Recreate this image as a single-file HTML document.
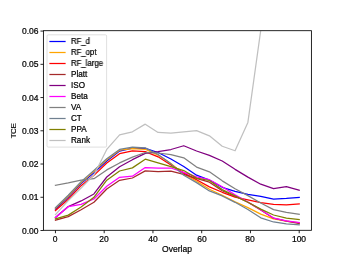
<!DOCTYPE html><html><head><meta charset="utf-8"><title>chart</title><style>
html,body{margin:0;padding:0;background:#fff}
body{width:346px;height:259px;position:relative;overflow:hidden;font-family:"Liberation Sans",sans-serif;font-size:8.15px;color:#000}
.t{position:absolute;white-space:nowrap;line-height:1;will-change:transform;-webkit-text-stroke:0.22px #000}
</style></head><body>
<svg width="346" height="259" viewBox="0 0 346 259" style="position:absolute;left:0;top:0">
<defs><clipPath id="c"><rect x="43.25" y="31.08" width="268.15" height="199.43"/></clipPath></defs>
<g clip-path="url(#c)" fill="none" stroke-width="1.250" stroke-linejoin="round" stroke-linecap="square">
<path d="M55.44,209.00 L68.27,197.27 L81.10,183.64 L93.93,172.68 L106.76,161.04 L119.59,151.10 L132.42,148.21 L145.25,148.34 L158.08,152.53 L170.91,159.05 L183.74,166.49 L196.57,175.17 L209.40,179.99 L222.23,187.30 L235.06,191.29 L247.89,194.45 L260.72,196.41 L273.55,199.03 L286.38,198.44 L299.21,197.44" stroke="#0000ff"/>
<path d="M55.44,208.24 L68.27,196.27 L81.10,182.65 L93.93,171.35 L106.76,159.71 L119.59,150.21 L132.42,148.68 L145.25,149.28 L158.08,155.06 L170.91,163.60 L183.74,174.00 L196.57,181.22 L209.40,189.19 L222.23,195.28 L235.06,201.73 L247.89,207.58 L260.72,214.12 L273.55,218.88 L286.38,221.20 L299.21,222.87" stroke="#ffa500"/>
<path d="M55.44,210.57 L68.27,199.27 L81.10,185.64 L93.93,175.33 L106.76,163.04 L119.59,153.66 L132.42,150.77 L145.25,151.60 L158.08,156.82 L170.91,164.96 L183.74,172.87 L196.57,179.82 L209.40,186.87 L222.23,192.29 L235.06,197.11 L247.89,199.93 L260.72,202.52 L273.55,204.48 L286.38,204.82 L299.21,204.02" stroke="#ff0000"/>
<path d="M55.44,220.21 L68.27,216.62 L81.10,209.70 L93.93,202.26 L106.76,188.96 L119.59,180.32 L132.42,177.99 L145.25,170.91 L158.08,171.51 L170.91,171.18 L183.74,174.34 L196.57,178.33 L209.40,182.21 L222.23,190.79 L235.06,196.27 L247.89,202.26 L260.72,209.90 L273.55,218.21 L286.38,221.20 L299.21,223.46" stroke="#a52a2a"/>
<path d="M55.44,217.55 L68.27,206.58 L81.10,200.93 L93.93,193.95 L106.76,177.00 L119.59,166.76 L132.42,159.68 L145.25,153.33 L158.08,151.60 L170.91,149.51 L183.74,145.75 L196.57,150.97 L209.40,155.32 L222.23,161.04 L235.06,169.35 L247.89,177.10 L260.72,184.18 L273.55,188.63 L286.38,186.64 L299.21,190.26" stroke="#800080"/>
<path d="M55.44,217.55 L68.27,206.68 L81.10,204.35 L93.93,198.93 L106.76,186.30 L119.59,177.33 L132.42,176.20 L145.25,167.59 L158.08,168.06 L170.91,168.02 L183.74,172.34 L196.57,176.93 L209.40,179.69 L222.23,186.80 L235.06,194.88 L247.89,201.93 L260.72,209.70 L273.55,218.05 L286.38,220.80 L299.21,222.53" stroke="#ff00ff"/>
<path d="M55.44,185.31 L68.27,182.98 L81.10,180.12 L93.93,178.66 L106.76,169.92 L119.59,162.94 L132.42,157.12 L145.25,152.53 L158.08,153.00 L170.91,154.73 L183.74,157.82 L196.57,167.09 L209.40,171.81 L222.23,180.85 L235.06,188.80 L247.89,195.64 L260.72,202.99 L273.55,209.64 L286.38,212.36 L299.21,214.22" stroke="#808080"/>
<path d="M55.44,207.61 L68.27,195.28 L81.10,181.65 L93.93,170.35 L106.76,158.72 L119.59,149.41 L132.42,147.05 L145.25,147.91 L158.08,154.49 L170.91,163.87 L183.74,175.17 L196.57,182.65 L209.40,190.92 L222.23,195.94 L235.06,202.32 L247.89,209.50 L260.72,217.81 L273.55,221.97 L286.38,223.93 L299.21,224.86" stroke="#708090"/>
<path d="M55.44,218.88 L68.27,215.12 L81.10,207.01 L93.93,197.27 L106.76,180.15 L119.59,171.01 L132.42,167.86 L145.25,159.15 L158.08,162.84 L170.91,166.59 L183.74,170.55 L196.57,178.09 L209.40,180.49 L222.23,189.63 L235.06,195.91 L247.89,202.26 L260.72,209.14 L273.55,214.99 L286.38,218.15 L299.21,219.64" stroke="#808000"/>
<path d="M55.44,214.56 L68.27,200.60 L81.10,187.96 L93.93,175.00 L106.76,149.41 L119.59,134.92 L132.42,131.79 L145.25,124.15 L158.08,132.46 L170.91,133.12 L183.74,131.83 L196.57,130.63 L209.40,135.85 L222.23,146.28 L235.06,150.74 L247.89,122.42 L260.72,30.42 L273.55,-35.40 L286.38,-35.40 L299.21,-35.40" stroke="#c0c0c0"/>
</g>
<rect x="43.4" y="30.7" width="268.00" height="199.60" fill="none" stroke="#000" stroke-width="0.850"/>
<line x1="55.44" x2="55.44" y1="230.30" y2="233.23" stroke="#000" stroke-width="0.850"/>
<line x1="104.19" x2="104.19" y1="230.30" y2="233.23" stroke="#000" stroke-width="0.850"/>
<line x1="152.95" x2="152.95" y1="230.30" y2="233.23" stroke="#000" stroke-width="0.850"/>
<line x1="201.70" x2="201.70" y1="230.30" y2="233.23" stroke="#000" stroke-width="0.850"/>
<line x1="250.46" x2="250.46" y1="230.30" y2="233.23" stroke="#000" stroke-width="0.850"/>
<line x1="299.21" x2="299.21" y1="230.30" y2="233.23" stroke="#000" stroke-width="0.850"/>
<line x1="43.40" x2="40.47" y1="230.51" y2="230.51" stroke="#000" stroke-width="0.850"/>
<line x1="43.40" x2="40.47" y1="197.27" y2="197.27" stroke="#000" stroke-width="0.850"/>
<line x1="43.40" x2="40.47" y1="164.03" y2="164.03" stroke="#000" stroke-width="0.850"/>
<line x1="43.40" x2="40.47" y1="130.79" y2="130.79" stroke="#000" stroke-width="0.850"/>
<line x1="43.40" x2="40.47" y1="97.56" y2="97.56" stroke="#000" stroke-width="0.850"/>
<line x1="43.40" x2="40.47" y1="64.32" y2="64.32" stroke="#000" stroke-width="0.850"/>
<line x1="43.40" x2="40.47" y1="31.08" y2="31.08" stroke="#000" stroke-width="0.850"/>
<rect x="47.0" y="34.8" width="59.60" height="112.30" rx="1.2" fill="#fff" fill-opacity="0.8" stroke="#ccc" stroke-opacity="0.8" stroke-width="0.751"/>
<line x1="50.0" x2="65.0" y1="41.50" y2="41.50" stroke="#0000ff" stroke-width="1.250" stroke-linecap="square"/>
<line x1="50.0" x2="65.0" y1="52.50" y2="52.50" stroke="#ffa500" stroke-width="1.250" stroke-linecap="square"/>
<line x1="50.0" x2="65.0" y1="63.50" y2="63.50" stroke="#ff0000" stroke-width="1.250" stroke-linecap="square"/>
<line x1="50.0" x2="65.0" y1="74.50" y2="74.50" stroke="#a52a2a" stroke-width="1.250" stroke-linecap="square"/>
<line x1="50.0" x2="65.0" y1="85.50" y2="85.50" stroke="#800080" stroke-width="1.250" stroke-linecap="square"/>
<line x1="50.0" x2="65.0" y1="96.50" y2="96.50" stroke="#ff00ff" stroke-width="1.250" stroke-linecap="square"/>
<line x1="50.0" x2="65.0" y1="107.50" y2="107.50" stroke="#808080" stroke-width="1.250" stroke-linecap="square"/>
<line x1="50.0" x2="65.0" y1="118.50" y2="118.50" stroke="#708090" stroke-width="1.250" stroke-linecap="square"/>
<line x1="50.0" x2="65.0" y1="129.50" y2="129.50" stroke="#808000" stroke-width="1.250" stroke-linecap="square"/>
<line x1="50.0" x2="65.0" y1="140.50" y2="140.50" stroke="#c0c0c0" stroke-width="1.250" stroke-linecap="square"/>
</svg>
<div class="t" style="left:71px;top:37.64px;transform:scaleX(0.955);transform-origin:left center">RF_d</div>
<div class="t" style="left:71px;top:48.64px;transform:scaleX(0.955);transform-origin:left center">RF_opt</div>
<div class="t" style="left:71px;top:59.64px;transform:scaleX(0.955);transform-origin:left center">RF_large</div>
<div class="t" style="left:71px;top:70.64px">Platt</div>
<div class="t" style="left:71px;top:81.64px">ISO</div>
<div class="t" style="left:71px;top:92.64px">Beta</div>
<div class="t" style="left:71px;top:103.64px">VA</div>
<div class="t" style="left:71px;top:114.64px">CT</div>
<div class="t" style="left:71px;top:125.64px">PPA</div>
<div class="t" style="left:71px;top:136.64px">Rank</div>
<div class="t" style="right:307.80px;top:226.55px;font-size:8.5px">0.00</div>
<div class="t" style="right:307.80px;top:193.31px;font-size:8.5px">0.01</div>
<div class="t" style="right:307.80px;top:160.07px;font-size:8.5px">0.02</div>
<div class="t" style="right:307.80px;top:126.83px;font-size:8.5px">0.03</div>
<div class="t" style="right:307.80px;top:93.60px;font-size:8.5px">0.04</div>
<div class="t" style="right:307.80px;top:60.36px;font-size:8.5px">0.05</div>
<div class="t" style="right:307.80px;top:27.12px;font-size:8.5px">0.06</div>
<div class="t" style="left:35.44px;width:40px;text-align:center;top:234.81px;font-size:8.5px">0</div>
<div class="t" style="left:84.19px;width:40px;text-align:center;top:234.81px;font-size:8.5px">20</div>
<div class="t" style="left:132.95px;width:40px;text-align:center;top:234.81px;font-size:8.5px">40</div>
<div class="t" style="left:181.70px;width:40px;text-align:center;top:234.81px;font-size:8.5px">60</div>
<div class="t" style="left:230.46px;width:40px;text-align:center;top:234.81px;font-size:8.5px">80</div>
<div class="t" style="left:279.21px;width:40px;text-align:center;top:234.81px;font-size:8.5px">100</div>
<div class="t" style="left:147.33px;width:60px;text-align:center;top:245.3px;font-size:8.5px">Overlap</div>
<div class="t" style="left:-15.60px;width:60px;text-align:center;top:126.50px;font-size:8.0px;letter-spacing:-0.45px;transform:rotate(-90deg)">TCE</div>
</body></html>
